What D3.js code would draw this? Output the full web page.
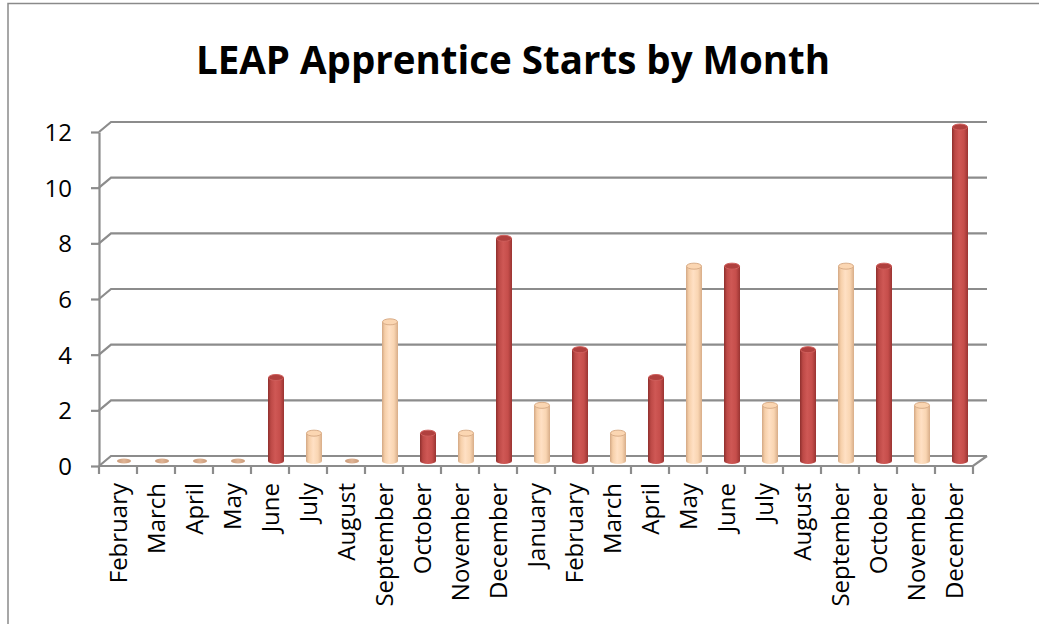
<!DOCTYPE html>
<html>
<head>
<meta charset="utf-8">
<script src="https://cdn.jsdelivr.net/npm/d3@7"></script>
<style>
  body { margin: 0; background: #fff; }
  svg { display: block; }
  text { font-family: "Open Sans", sans-serif; fill: #000; }
</style>
</head>
<body>
<div id="chart"></div>
<script>
// chart data
const MONTHS = ["February", "March", "April", "May", "June", "July", "August",
  "September", "October", "November", "December", "January", "February", "March",
  "April", "May", "June", "July", "August", "September", "October", "November", "December"];
const STARTS = [0, 0, 0, 0, 3, 1, 0, 5, 1, 1, 8, 2, 4, 1, 3, 7, 7, 2, 4, 7, 7, 2, 12];
const Y_TICKS = [0, 2, 4, 6, 8, 10, 12];
const TITLE = "LEAP Apprentice Starts by Month";

const FRAME_WIDTH = 1039;
const FRAME_HEIGHT = 624;
const PLOT = {left: 99, right: 973, bottom: 466, top: 132};
// 3d depth offset of the back wall
const DX = 12, DY = -10;
const BAR_W = 16;

const svg = d3.select("#chart").append("svg")
  .attr("width", FRAME_WIDTH)
  .attr("height", FRAME_HEIGHT);

// gradients for the cylinders
const defs = svg.append("defs");
function cylGrad(id, stops) {
  const g = defs.append("linearGradient").attr("id", id)
    .attr("x1", "0%").attr("x2", "100%").attr("y1", "0%").attr("y2", "0%");
  stops.forEach(s => g.append("stop").attr("offset", s[0]).attr("stop-color", s[1]));
}
cylGrad("redBody", [["0%", "#8e2f2d"], ["18%", "#bd4946"], ["45%", "#cf5855"], ["75%", "#c64e4b"], ["100%", "#9a3432"]]);
cylGrad("peachBody", [["0%", "#d3a884"], ["18%", "#f6cfa9"], ["45%", "#ffe0c4"], ["75%", "#f9d5b2"], ["100%", "#d8ad88"]]);
cylGrad("tanDisc", [["0%", "#c99a78"], ["50%", "#e0b495"], ["100%", "#c99a78"]]);

// frame border (chart area continues past the window on right and bottom)
svg.append("path")
  .attr("d", "M8," + FRAME_HEIGHT + " L8,3.5 L" + FRAME_WIDTH + ",3.5")
  .attr("fill", "none")
  .attr("stroke", "#8a8a8a")
  .attr("stroke-width", 1.5);

// title
svg.append("text")
  .attr("x", 513)
  .attr("y", 74)
  .attr("text-anchor", "middle")
  .attr("font-size", "38.5px")
  .attr("font-weight", "bold")
  .text(TITLE);

const xEdge = d3.scaleLinear().domain([0, MONTHS.length]).range([PLOT.left, PLOT.right]);
const x = d3.scaleBand().domain(d3.range(MONTHS.length)).range([PLOT.left, PLOT.right]).padding(0);
const y = d3.scaleLinear().domain([0, 12]).range([PLOT.bottom, PLOT.top]);

const GRID = "#8c8c8c";

// gridlines: short diagonal on the side wall, then across the back wall
svg.append("g").selectAll("path")
  .data(Y_TICKS)
  .enter()
  .append("path")
    .attr("d", d => "M" + PLOT.left + "," + y(d) + " L" + (PLOT.left + DX) + "," + (y(d) + DY) +
      " L" + (PLOT.right + DX + 2) + "," + (y(d) + DY))
    .attr("fill", "none")
    .attr("stroke", GRID)
    .attr("stroke-width", 2.2);

// floor front edge and right diagonal
svg.append("path")
  .attr("d", "M" + PLOT.left + "," + y(0) + " L" + PLOT.right + "," + y(0) +
    " L" + (PLOT.right + DX + 2) + "," + (y(0) + DY))
  .attr("fill", "none")
  .attr("stroke", GRID)
  .attr("stroke-width", 2.2);

// y axis
const yAxis = svg.append("g")
  .attr("transform", "translate(" + PLOT.left + ",0)")
  .call(d3.axisLeft(y).tickValues(Y_TICKS).tickSize(8).tickSizeOuter(0).tickPadding(19));
yAxis.select(".domain").attr("stroke", GRID).attr("stroke-width", 2.2);
yAxis.selectAll(".tick line").attr("stroke", GRID).attr("stroke-width", 2.2);
yAxis.selectAll(".tick text").attr("font-size", "24px").attr("font-family", "Open Sans").attr("dy", "0.36em");

// x ticks at the band edges
svg.append("g").selectAll("line")
  .data(d3.range(MONTHS.length + 1))
  .enter()
  .append("line")
    .attr("x1", d => xEdge(d)).attr("x2", d => xEdge(d))
    .attr("y1", y(0)).attr("y2", y(0) + 8)
    .attr("stroke", GRID)
    .attr("stroke-width", 2.2);

// x labels, rotated
svg.append("g").selectAll("text")
  .data(MONTHS)
  .enter()
  .append("text")
    .attr("transform", (d, i) => "translate(" + (x(i) + x.bandwidth() / 2) + "," + (y(0) + 17) + ") rotate(-90)")
    .attr("text-anchor", "end")
    .attr("dy", "0.36em")
    .attr("font-size", "24px")
    .text(d => d);

// cylinders
const bars = svg.append("g");
STARTS.forEach((v, i) => {
  const cx = x(i) + x.bandwidth() / 2 + DX / 2;
  const base = y(0) + DY / 2;
  const top = y(v) + DY / 2;
  const rx = BAR_W / 2, ry = 3;
  if (v === 0) {
    bars.append("ellipse")
      .attr("cx", cx).attr("cy", base)
      .attr("rx", rx - 1).attr("ry", 2.5)
      .attr("fill", "url(#tanDisc)");
    return;
  }
  const red = i % 2 === 0;
  const body = red ? "url(#redBody)" : "url(#peachBody)";
  bars.append("ellipse")
    .attr("cx", cx).attr("cy", base)
    .attr("rx", rx).attr("ry", ry)
    .attr("fill", body);
  bars.append("rect")
    .attr("x", cx - rx).attr("y", top)
    .attr("width", BAR_W).attr("height", base - top)
    .attr("fill", body);
  bars.append("ellipse")
    .attr("cx", cx).attr("cy", top)
    .attr("rx", rx - 0.5).attr("ry", ry)
    .attr("fill", red ? "#b0403e" : "#fbd6b2")
    .attr("stroke", red ? "#cf5e5b" : "#d9ad88")
    .attr("stroke-width", 1);
});
</script>
</body>
</html>
